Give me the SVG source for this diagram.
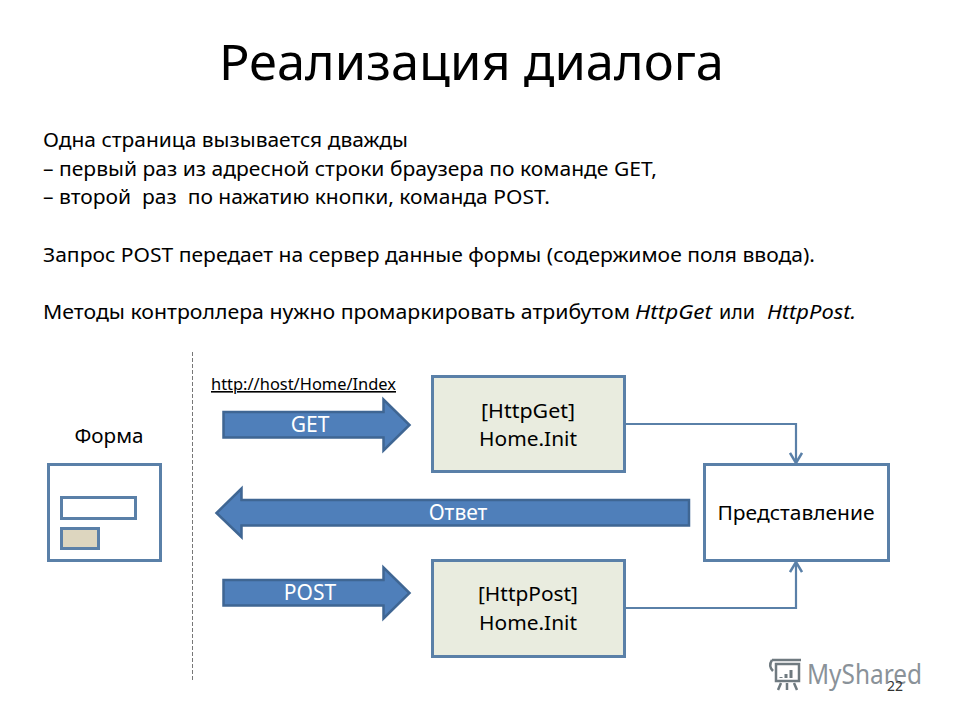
<svg xmlns="http://www.w3.org/2000/svg" width="960" height="720" viewBox="0 0 960 720">
<style>
text{font-family:"Noto Sans","Open Sans","Liberation Sans",sans-serif;fill:#000}
.body{font-size:19.500px}
.it{font-style:italic}
.lbl{font-size:20px;text-anchor:middle}
.w{fill:#fff;font-size:21px;text-anchor:middle}
.box{fill:#fff;stroke:#5a80a8;stroke-width:3}
.proc{fill:#e9ecdf;stroke:#5a80a8;stroke-width:3}
.arr{fill:#4f7fba;stroke:#3f6693;stroke-width:2.500;stroke-linejoin:miter}
.con{fill:none;stroke:#5a80a8;stroke-width:2.200}
.head{fill:none;stroke:#5a80a8;stroke-width:2.500}
</style>
<defs>
<marker id="open" viewBox="0 0 14 14" refX="13" refY="7" markerWidth="14" markerHeight="14" markerUnits="userSpaceOnUse" orient="auto"><path class="head" d="M3 1 L13 7 L3 13"/></marker>
</defs>
<rect width="960" height="720" fill="#fff"/>
<text id="title" x="219" y="80" font-size="50" textLength="505" lengthAdjust="spacingAndGlyphs">Реализация диалога</text>
<g id="text">
<text class="body" x="43" y="147" textLength="365" lengthAdjust="spacingAndGlyphs">Одна страница вызывается дважды</text>
<text class="body" x="43" y="176" textLength="614" lengthAdjust="spacingAndGlyphs">– первый раз из адресной строки браузера по команде GET,</text>
<text class="body" x="43" y="204" textLength="507" lengthAdjust="spacingAndGlyphs" xml:space="preserve">– второй  раз  по нажатию кнопки, команда POST.</text>
<text class="body" x="43" y="262" textLength="772" lengthAdjust="spacingAndGlyphs">Запрос POST передает на сервер данные формы (содержимое поля ввода).</text>
<text class="body" x="43" y="319" textLength="587" lengthAdjust="spacingAndGlyphs">Методы контроллера нужно промаркировать атрибутом</text>
<text class="body it" x="635" y="319" textLength="77" lengthAdjust="spacingAndGlyphs">HttpGet</text>
<text class="body" x="719" y="319" textLength="36" lengthAdjust="spacingAndGlyphs">или</text>
<text class="body it" x="767" y="319" textLength="89" lengthAdjust="spacingAndGlyphs">HttpPost.</text>
</g>
<line id="divider" x1="192.500" y1="352" x2="192.500" y2="680" stroke="#777" stroke-width="1" stroke-dasharray="4 2"/>
<g id="url"><text x="211" y="390" font-size="16" textLength="185" lengthAdjust="spacingAndGlyphs" text-decoration="underline">http://host/Home/Index</text></g>
<g id="form">
<text class="lbl" x="109" y="443" textLength="69" lengthAdjust="spacingAndGlyphs">Форма</text>
<rect class="box" x="48.500" y="464.500" width="112" height="96"/>
<rect class="box" x="61.500" y="497.500" width="74" height="21"/>
<rect x="61.500" y="528.500" width="37" height="20" fill="#ddd6bf" stroke="#5a80a8" stroke-width="3"/>
</g>
<g id="connectors">
<path class="con" d="M625 424 H796 V463" marker-end="url(#open)"/>
<path class="con" d="M625 608 H796 V562" marker-end="url(#open)"/>
</g>
<g id="get">
<path class="arr" d="M223.500 412 H383.500 V399.500 L409.500 425 L383.500 450.500 V437.500 H223.500 Z"/>
<text class="w" x="310" y="432">GET</text>
</g>
<g id="answer">
<path class="arr" d="M689 500 H241.500 V488.500 L216.500 513 L241.500 537 V525.500 H689 Z"/>
<text class="w" x="458" y="520">Ответ</text>
</g>
<g id="post">
<path class="arr" d="M223.500 580 H383.500 V567.500 L409.500 593 L383.500 618.500 V605.500 H223.500 Z"/>
<text class="w" x="310" y="600">POST</text>
</g>
<g id="httpget">
<rect class="proc" x="432.500" y="376.500" width="192" height="95"/>
<text class="lbl" x="528" y="418" textLength="94" lengthAdjust="spacingAndGlyphs">[HttpGet]</text>
<text class="lbl" x="528" y="446" textLength="98" lengthAdjust="spacingAndGlyphs">Home.Init</text>
</g>
<g id="httppost">
<rect class="proc" x="432.500" y="560.500" width="192" height="96"/>
<text class="lbl" x="528" y="601" textLength="100" lengthAdjust="spacingAndGlyphs">[HttpPost]</text>
<text class="lbl" x="528" y="630" textLength="98" lengthAdjust="spacingAndGlyphs">Home.Init</text>
</g>
<g id="view">
<rect class="box" x="704.500" y="464.500" width="184" height="96"/>
<text class="lbl" x="796" y="520" textLength="157" lengthAdjust="spacingAndGlyphs">Представление</text>
</g>
<g id="watermark">
<text x="807" y="684" font-size="27" style="fill:#8a9299" textLength="115" lengthAdjust="spacingAndGlyphs">MyShared</text>
<g fill="none" stroke="#6f7a80" stroke-width="2.500">
<rect x="776" y="664" width="23" height="17"/>
<path d="M772 660 H801 M772 660 Q768 666 773 671 M781 683 L778 690 M787 683 V690 M794 683 L797 690"/>
<path d="M781 678 V677 M786 678 V674 M791 678 V670" stroke-width="3"/>
</g>
</g>
<text id="page" x="895" y="691" font-size="14" text-anchor="middle" style="fill:#333">22</text>
</svg>
